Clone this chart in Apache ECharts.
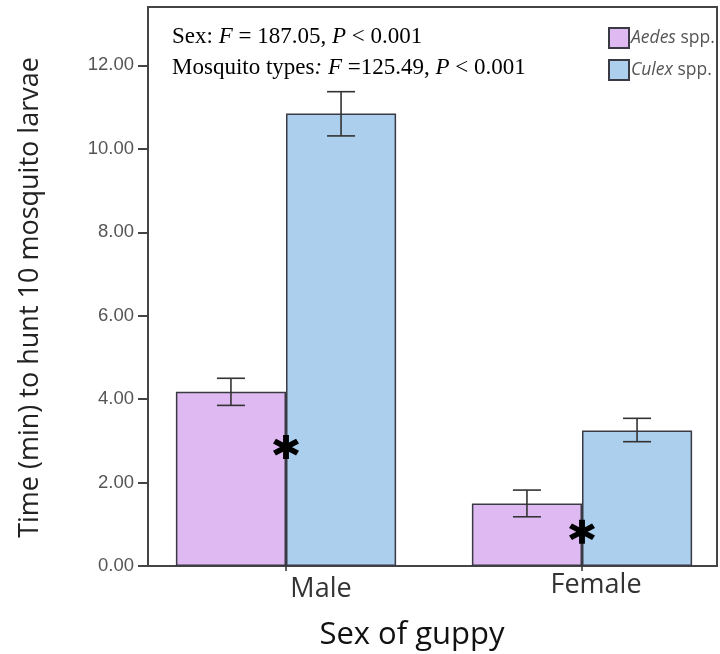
<!DOCTYPE html>
<html>
<head>
<meta charset="utf-8">
<script src="https://cdn.jsdelivr.net/npm/echarts@6/dist/echarts.min.js"></script>
<style>html,body{margin:0;padding:0;background:#fff;}#c{width:720px;height:654px;}</style>
</head>
<body>
<div id="c"></div>
<script>
const categories = ['Male', 'Female'];
const seriesNames = ['Aedes spp.', 'Culex spp.'];
const aedesMean = [4.18, 1.50];
const aedesLow = [3.85, 1.18];
const aedesHigh = [4.50, 1.82];
const culexMean = [10.85, 3.25];
const culexLow = [10.31, 2.98];
const culexHigh = [11.37, 3.54];
const starValues = [2.85, 0.82];
const yTicks = [0, 2, 4, 6, 8, 10, 12];
const yMax = 13.4;

const chart = echarts.init(document.getElementById('c'), null, {renderer: 'canvas'});
const BAR_FRAC = 0.372;
const purple = '#dfbaf2';
const blue = '#abcfed';
const edge = '#3a3a44';

function errorSeries(low, high, side) {
  return {
    type: 'custom', xAxisIndex: 0, yAxisIndex: 0, z: 5,
    data: categories.map((c, i) => [i, low[i], high[i]]),
    renderItem: function (params, api) {
      const band = api.size([1, 0])[0];
      const ctr = api.coord([api.value(0), 0])[0] + side * band * BAR_FRAC / 2;
      const yl = api.coord([api.value(0), api.value(1)])[1];
      const yh = api.coord([api.value(0), api.value(2)])[1];
      const hw = 14;
      const st = {stroke: '#333', lineWidth: 1.6};
      return {type: 'group', children: [
        {type: 'line', shape: {x1: ctr, y1: yl, x2: ctr, y2: yh}, style: st},
        {type: 'line', shape: {x1: ctr - hw, y1: yh, x2: ctr + hw, y2: yh}, style: st},
        {type: 'line', shape: {x1: ctr - hw, y1: yl, x2: ctr + hw, y2: yl}, style: st}
      ]};
    }
  };
}

const starPath = 'path://M-2.2,-10L2.2,-10L2.2,10L-2.2,10Z M7.56,-6.9L9.76,-3.1L-7.56,6.9L-9.76,3.1Z M-9.76,-3.1L-7.56,-6.9L9.76,3.1L7.56,6.9Z';

const option = {
  animation: false,
  backgroundColor: '#fff',
  title: {
    left: 172, top: 21, padding: 0,
    text: '{n|Sex: }{i|F}{n| = 187.05, }{i|P}{n| < 0.001}\n{n|Mosquito types}{i|:}{n| }{i|F}{n| =125.49, }{i|P}{n| < 0.001}',
    textStyle: {
      fontFamily: 'Liberation Serif', fontSize: 23, fontWeight: 'normal', color: '#000', lineHeight: 31,
      rich: {
        n: {fontFamily: 'Liberation Serif', fontSize: 23, color: '#000', lineHeight: 31},
        i: {fontFamily: 'Liberation Serif', fontSize: 23, fontStyle: 'italic', color: '#000', lineHeight: 31}
      }
    }
  },
  legend: {
    orient: 'vertical', left: 608, top: 27, padding: 0,
    itemWidth: 20, itemHeight: 20, itemGap: 10,
    data: seriesNames,
    icon: 'rect',
    itemStyle: {borderColor: edge, borderWidth: 2},
    formatter: function (name) { const p = name.split(' '); return '{i|' + p[0] + '} ' + p[1]; },
    textStyle: {
      fontFamily: 'Open Sans', fontSize: 17.5, color: '#555', padding: [0, 0, 0, -3],
      rich: {i: {fontFamily: 'Open Sans', fontSize: 17.5, fontStyle: 'italic', color: '#555'}}
    }
  },
  grid: [
    {left: 286, width: 296, top: 7, bottom: 88, show: false, outerBoundsMode: 'none', containLabel: false},
    {left: 148, right: 3, top: 7, bottom: 88, show: true, borderColor: '#444', borderWidth: 2, backgroundColor: 'transparent', outerBoundsMode: 'none', containLabel: false}
  ],
  xAxis: [
    {
      type: 'category', gridIndex: 0, data: categories, boundaryGap: false,
      axisLine: {show: false},
      axisTick: {show: true, length: 5, lineStyle: {color: '#333', width: 1.5}},
      axisLabel: {
        margin: 5,
        formatter: function (v) { return v === 'Male' ? '{m|' + v + '}' : '{f|' + v + '}'; },
        rich: {
          m: {fontFamily: 'Open Sans', fontSize: 27, color: '#333', lineHeight: 28, padding: [9, 0, 0, 70]},
          f: {fontFamily: 'Open Sans', fontSize: 27, color: '#333', lineHeight: 28, padding: [0, 0, 0, 28]}
        }
      },
      name: 'Sex of guppy', nameLocation: 'middle', nameGap: 54,
      nameTextStyle: {fontFamily: 'Open Sans', fontSize: 31, color: '#111', padding: [0, 44, 0, 0]}
    },
    {type: 'value', gridIndex: 1, show: false, min: 0, max: 1}
  ],
  yAxis: [
    {type: 'value', gridIndex: 0, min: 0, max: yMax, show: false},
    {
      type: 'value', gridIndex: 1, min: 0, max: yMax,
      splitLine: {show: false},
      axisLine: {show: true, lineStyle: {color: '#444', width: 2}},
      axisTick: {show: true, length: 10, customValues: yTicks, lineStyle: {color: '#444', width: 2}},
      axisLabel: {
        customValues: yTicks, margin: 14,
        formatter: function (v) { return Number(v).toFixed(2); },
        fontFamily: 'Liberation Sans', fontSize: 18.5, color: '#555'
      },
      name: 'Time (min) to hunt 10 mosquito larvae', nameLocation: 'middle', nameGap: 104, nameRotate: 90,
      nameTextStyle: {fontFamily: 'Open Sans', fontSize: 27, color: '#222', padding: [0, 22, 0, 0]}
    }
  ],
  series: [
    {
      name: seriesNames[0], type: 'bar', xAxisIndex: 0, yAxisIndex: 0,
      data: aedesMean, barWidth: (BAR_FRAC * 100) + '%', barGap: '0%',
      itemStyle: {color: purple, borderColor: edge, borderWidth: 1.5}
    },
    {
      name: seriesNames[1], type: 'bar', xAxisIndex: 0, yAxisIndex: 0,
      data: culexMean, barWidth: (BAR_FRAC * 100) + '%', barGap: '0%',
      itemStyle: {color: blue, borderColor: edge, borderWidth: 1.5}
    },
    errorSeries(aedesLow, aedesHigh, -1),
    errorSeries(culexLow, culexHigh, 1),
    {
      type: 'scatter', xAxisIndex: 0, yAxisIndex: 0, z: 6,
      data: categories.map((c, i) => [i, starValues[i]]),
      symbol: starPath, symbolSize: [26, 24],
      itemStyle: {color: '#000', opacity: 1}
    }
  ]
};
chart.setOption(option);
</script>
</body>
</html>
